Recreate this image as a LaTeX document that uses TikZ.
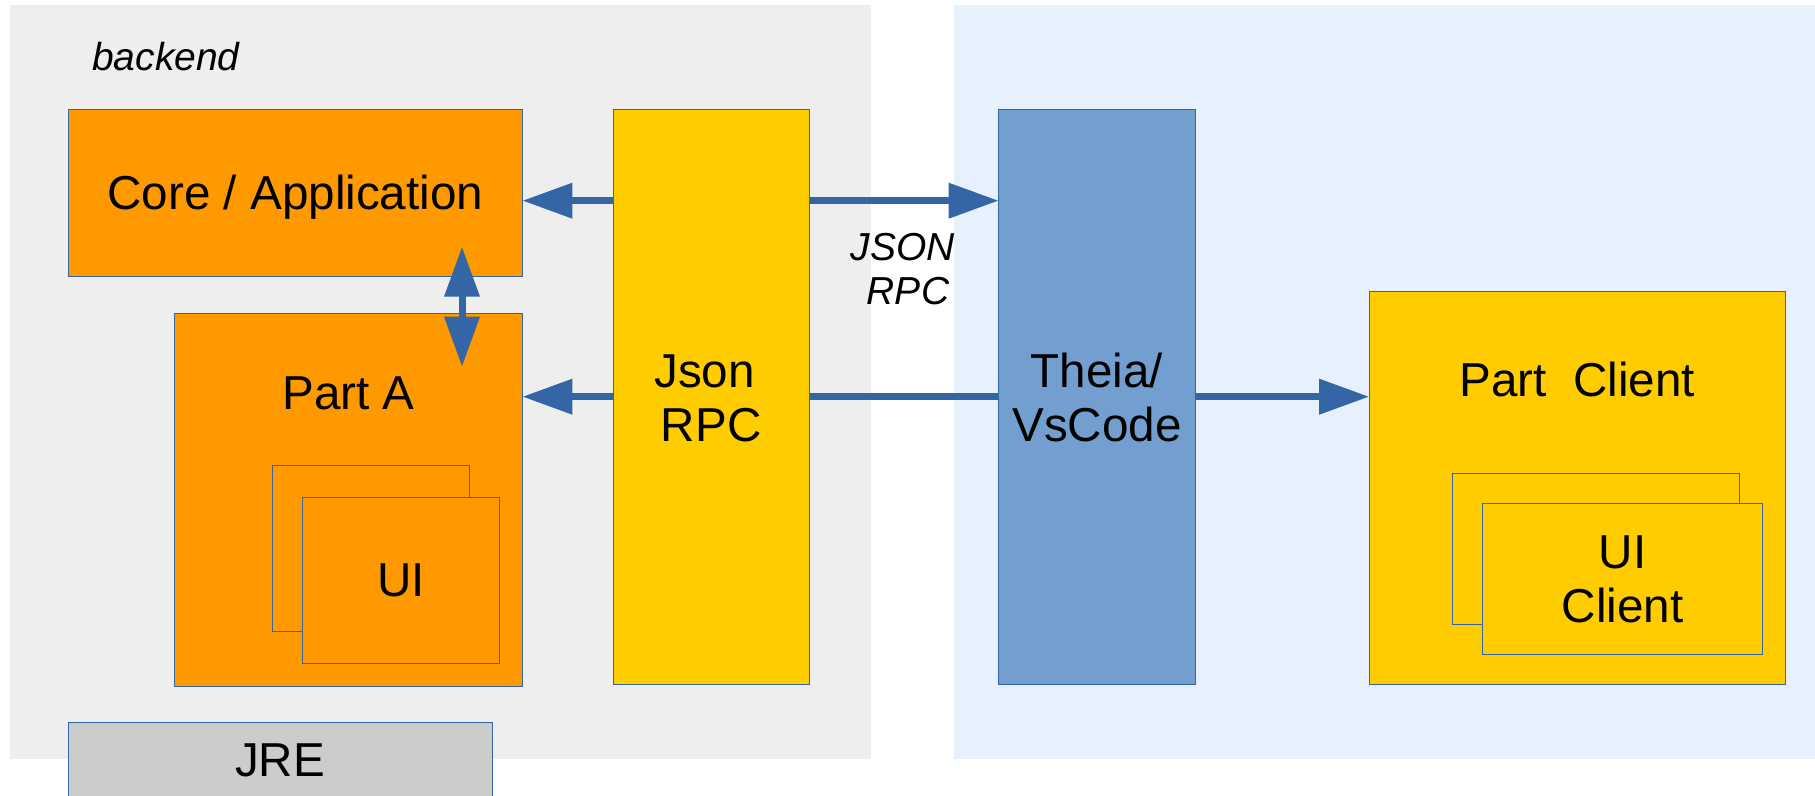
\documentclass[tikz,border=0pt]{standalone}
\usepackage{fontspec}
\setmainfont{Liberation Sans}
\usetikzlibrary{arrows.meta}
\definecolor{bggrey}{HTML}{EEEEEE}
\definecolor{bgblue}{HTML}{E6F1FD}
\definecolor{orangebox}{HTML}{FF9900}
\definecolor{yellowbox}{HTML}{FFCC00}
\definecolor{theiablue}{HTML}{729FCF}
\definecolor{arrowblue}{HTML}{3465A4}
\definecolor{jregrey}{HTML}{CCCCCC}
\begin{document}
\begin{tikzpicture}[x=0.5pt,y=-0.5pt,
  box/.style={draw=arrowblue, line width=0.5pt, anchor=north west, inner sep=0pt, outer sep=0pt},
  lbl/.style={font=\fontsize{23.8}{27}\selectfont, inner sep=0pt},
  mlbl/.style={lbl, align=center},
  ital/.style={font=\fontsize{19.5}{21.7}\selectfont\itshape, align=center, inner sep=0pt},
  arr/.style={draw=arrowblue, line width=3.5pt, -{Triangle[length=25pt,width=17pt]}},
  dblarr/.style={draw=arrowblue, line width=3.5pt, {Triangle[length=25pt,width=17pt]}-{Triangle[length=25pt,width=17pt]}},
  plainline/.style={draw=arrowblue, line width=3.5pt}
]
\useasboundingbox (0,0) rectangle (1815,796);
% backgrounds
\fill[bggrey] (9.8,5) rectangle (870.8,759.3);
\fill[bgblue] (954.3,5) rectangle (1815,759.3);
% level coordinates
\coordinate (ya) at (0,200.7);
\coordinate (yb) at (0,396.7);
% boxes
\node[box, fill=orangebox, minimum width=227.05pt, minimum height=83.15pt] (core) at (68.3,110) {};
\node[box, fill=orangebox, minimum width=173.95pt, minimum height=186pt] (parta) at (174.5,314) {};
\node[box, fill=orangebox, minimum width=98.45pt, minimum height=83pt] (uiback) at (272.7,465.7) {};
\node[box, fill=orangebox, minimum width=98.45pt, minimum height=83.2pt] (uifront) at (302.5,497.3) {};
\node[box, fill=yellowbox, minimum width=98.2pt, minimum height=287.15pt] (json) at (613,110) {};
\node[box, fill=theiablue, minimum width=98.35pt, minimum height=287.15pt] (theia) at (998.6,110) {};
\node[box, fill=yellowbox, minimum width=208pt, minimum height=196.3pt] (partc) at (1369.2,291.7) {};
\node[box, fill=yellowbox, minimum width=143.55pt, minimum height=75.5pt] (uicback) at (1452,473.3) {};
\node[box, fill=yellowbox, minimum width=140.05pt, minimum height=75.5pt] (uicfront) at (1482.4,503.3) {};
\node[box, fill=jregrey, minimum width=211.85pt, minimum height=38.2pt] (jre) at (68.3,722.3) {};
% connectors
\draw[arr] (json.west |- ya) -- (core.east |- ya);
\draw[arr] (json.east |- ya) -- (theia.west |- ya);
\draw[arr] (json.west |- yb) -- (parta.east |- yb);
\draw[plainline] (json.east |- yb) -- (theia.west |- yb);
\draw[arr] (theia.east |- yb) -- (partc.west |- yb);
\coordinate (vtop) at (462,246.7);
\coordinate (vbot) at (462,366.7);
\draw[dblarr] (vtop) -- (vbot);
% labels
\node[ital, anchor=base west] (backendtxt) at (91.8,70.7) {backend};
\node[lbl, anchor=base] (coretxt) at (295.4,210) {Core / Application};
\node[lbl, anchor=base] (parttxt) at (348.5,410) {Part A};
\node[lbl, anchor=base] (uitxt) at (401,596.7) {UI};
\node[mlbl] (jsontxt) at (711.2,398.4) {Json\kern0.28em\\RPC};
\node[mlbl] (theiatxt) at (1097,397) {Theia/\\VsCode};
\node[lbl, anchor=base] (pctxt) at (1577.2,396.7) {Part\ \ Client};
\node[mlbl] (uictxt) at (1622.5,579.7) {UI\\Client};
\node[lbl, anchor=base] (jretxt) at (280,776.7) {JRE};
\node[ital] (rpclbl) at (908,269) {JSON\kern0.28em\\RPC};
\end{tikzpicture}
\end{document}
